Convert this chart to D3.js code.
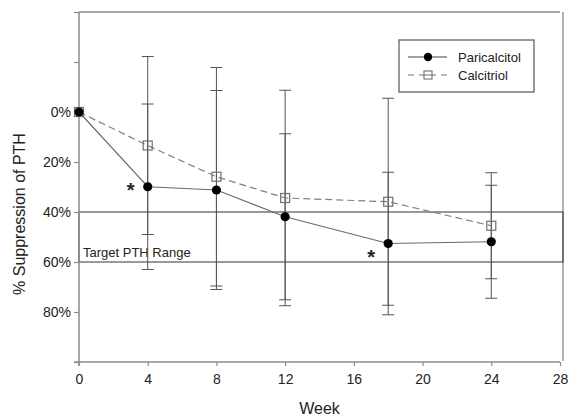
<!DOCTYPE html>
<html>
<head>
<meta charset="utf-8">
<script src="https://cdn.jsdelivr.net/npm/d3@7"></script>
<style>
  body { margin: 0; background: #fff; }
  text { font-family: "Liberation Sans", Arial, sans-serif; fill: #222; }
</style>
</head>
<body>
<svg id="chart" width="569" height="417"></svg>
<script>
// ---- data ----
const weeks = [0, 4, 8, 12, 18, 24];
const paricalcitolMean = [0, 29.9, 31.2, 41.9, 52.6, 51.9];
const paricalcitolSD   = [0, 33.1, 39.8, 33.2, 28.5, 22.6];
const calcitriolMean   = [0, 13.4, 25.9, 34.4, 35.9, 45.5];
const calcitriolSD     = [0, 35.6, 43.7, 43.1, 41.4, 21.2];
const xTicks = [0, 4, 8, 12, 16, 20, 24, 28];
const yTicks = [-40, -20, 0, 20, 40, 60, 80, 100];
const yLabelled = [0, 20, 40, 60, 80];
const targetRange = [40, 60];
const significantWeeks = [4, 18];
const seriesNames = ["Paricalcitol", "Calcitriol"];

// ---- layout ----
const svg = d3.select("#chart");
const x = d3.scaleLinear().domain([0, 28]).range([79, 560]);
const y = d3.scaleLinear().domain([-40, 100]).range([12, 362]);
const axisColor = "#8a8a8a";

// frame (top and right)
svg.append("line").attr("x1", x(0)).attr("x2", x(28)).attr("y1", y(-40)).attr("y2", y(-40))
  .attr("stroke", axisColor).attr("stroke-width", 1.3);
svg.append("line").attr("x1", 563).attr("x2", 563).attr("y1", y(-40)).attr("y2", y(100) - 1)
  .attr("stroke", axisColor).attr("stroke-width", 1.3);

// target range box
svg.append("rect").attr("x", x(0)).attr("y", y(targetRange[0]))
  .attr("width", 563 - x(0)).attr("height", y(targetRange[1]) - y(targetRange[0]))
  .attr("fill", "none").attr("stroke", "#333").attr("stroke-width", 1);
svg.append("text").attr("x", 83).attr("y", y(targetRange[1]) - 5)
  .attr("font-size", 13).text("Target PTH Range");

// y axis
const yAxis = d3.axisLeft(y).tickValues(yTicks).tickSize(5).tickPadding(3)
  .tickFormat(d => yLabelled.includes(d) ? d + "%" : "");
const gy = svg.append("g").attr("transform", `translate(${x(0)},0)`).call(yAxis);
gy.select(".domain").remove();
gy.append("line").attr("x1", 0).attr("x2", 0).attr("y1", y(-40)).attr("y2", y(100) + 4)
  .attr("stroke", axisColor).attr("stroke-width", 1.5);
gy.selectAll(".tick line").attr("stroke", axisColor).attr("stroke-width", 1.2);
gy.selectAll(".tick text").attr("font-size", 14).attr("fill", "#222")
  .style("font-family", '"Liberation Sans", Arial, sans-serif');

// x axis
const xAxis = d3.axisBottom(x).tickValues(xTicks).tickSize(4).tickPadding(8);
const gx = svg.append("g").attr("transform", `translate(0,${y(100)})`).call(xAxis);
gx.select(".domain").remove();
gx.append("line").attr("x1", x(0) - 5).attr("x2", x(28)).attr("y1", 0).attr("y2", 0)
  .attr("stroke", axisColor).attr("stroke-width", 1.5);
gx.selectAll(".tick line").attr("stroke", axisColor).attr("stroke-width", 1.2);
gx.selectAll(".tick text").attr("font-size", 14).attr("fill", "#222")
  .style("font-family", '"Liberation Sans", Arial, sans-serif');

// axis titles
svg.append("text").attr("x", (x(0) + x(28)) / 2).attr("y", 414)
  .attr("text-anchor", "middle").attr("font-size", 16).text("Week");
svg.append("text").attr("transform", `translate(25,214) rotate(-90)`)
  .attr("text-anchor", "middle").attr("font-size", 16).text("% Suppression of PTH");

// error bars
const capW = 6;
const errColor = "#555";
function errorBars(means, sds) {
  weeks.forEach((w, i) => {
    if (sds[i] === 0) return;
    const lo = means[i] - sds[i], hi = means[i] + sds[i];
    svg.append("line").attr("x1", x(w)).attr("x2", x(w)).attr("y1", y(lo)).attr("y2", y(hi))
      .attr("stroke", errColor).attr("stroke-width", 1);
    [lo, hi].forEach(v => {
      svg.append("line").attr("x1", x(w) - capW).attr("x2", x(w) + capW)
        .attr("y1", y(v)).attr("y2", y(v)).attr("stroke", errColor).attr("stroke-width", 1);
    });
  });
}
errorBars(calcitriolMean, calcitriolSD);
errorBars(paricalcitolMean, paricalcitolSD);

// lines
const line = d3.line().x(d => x(d[0])).y(d => y(d[1]));
const pData = weeks.map((w, i) => [w, paricalcitolMean[i]]);
const cData = weeks.map((w, i) => [w, calcitriolMean[i]]);
svg.append("path").datum(cData).attr("d", line).attr("fill", "none")
  .attr("stroke", "#808080").attr("stroke-width", 1.2).attr("stroke-dasharray", "7,4");
svg.append("path").datum(pData).attr("d", line).attr("fill", "none")
  .attr("stroke", "#6a6a6a").attr("stroke-width", 1.2);

// markers
svg.selectAll(".sq").data(cData).enter().append("rect")
  .attr("x", d => x(d[0]) - 4.5).attr("y", d => y(d[1]) - 4.5)
  .attr("width", 9).attr("height", 9).attr("fill", "none")
  .attr("stroke", "#707070").attr("stroke-width", 1.2);
svg.selectAll(".ci").data(pData).enter().append("circle")
  .attr("cx", d => x(d[0])).attr("cy", d => y(d[1])).attr("r", 4.6).attr("fill", "#000");

// significance asterisks
significantWeeks.forEach(w => {
  const i = weeks.indexOf(w);
  svg.append("text").attr("x", x(w) - 17).attr("y", y(paricalcitolMean[i]) + (w === 4 ? 10 : 20.5))
    .attr("text-anchor", "middle").attr("font-size", 20).attr("font-weight", "bold")
    .attr("fill", "#111").text("*");
});

// legend
const lg = svg.append("g");
lg.append("rect").attr("x", 399).attr("y", 40).attr("width", 135).attr("height", 52)
  .attr("fill", "#fff").attr("stroke", "#555").attr("stroke-width", 1.2);
lg.append("line").attr("x1", 408).attr("x2", 447).attr("y1", 57).attr("y2", 57)
  .attr("stroke", "#444").attr("stroke-width", 1.2);
lg.append("circle").attr("cx", 428).attr("cy", 57).attr("r", 4.2).attr("fill", "#000");
lg.append("line").attr("x1", 408).attr("x2", 447).attr("y1", 75).attr("y2", 75)
  .attr("stroke", "#707070").attr("stroke-width", 1.2).attr("stroke-dasharray", "6,5");
lg.append("rect").attr("x", 424).attr("y", 71).attr("width", 8).attr("height", 8)
  .attr("fill", "#fff").attr("stroke", "#707070").attr("stroke-width", 1.1);
lg.append("line").attr("x1", 424).attr("x2", 432).attr("y1", 75).attr("y2", 75)
  .attr("stroke", "#707070").attr("stroke-width", 1);
lg.append("text").attr("x", 458).attr("y", 62).attr("font-size", 13).text(seriesNames[0]);
lg.append("text").attr("x", 458).attr("y", 80).attr("font-size", 13).text(seriesNames[1]);
</script>
</body>
</html>
